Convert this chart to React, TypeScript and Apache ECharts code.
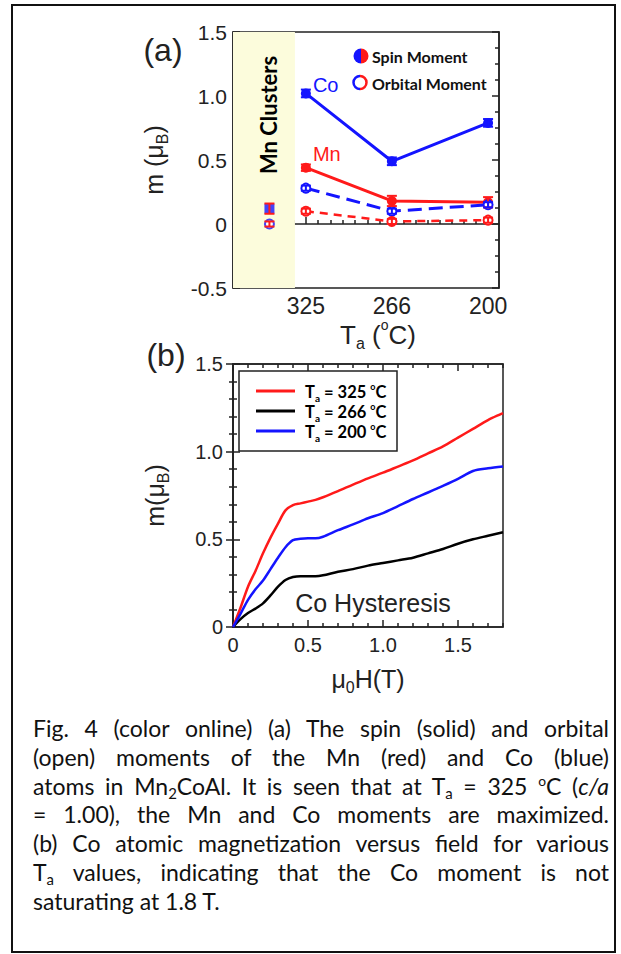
import React, { useEffect, useRef } from "react";
import * as echarts from "echarts";

// ---------------- Panel (a) data ----------------
const annealTemps = [325, 266, 200]; // Ta (°C)
const clusterPos = 350; // "Mn Clusters" sample position on the Ta axis
const clusterBand = [375, 332.5];
const coSpin = [1.02, 0.49, 0.79];
const coSpinErr = [0.03, 0.03, 0.03];
const mnSpin = [0.44, 0.18, 0.17];
const mnSpinErr = [0.025, 0.04, 0.04];
const coOrbital = [0.28, 0.1, 0.15];
const coOrbitalErr = [0.02, 0.02, 0.02];
const mnOrbital = [0.1, 0.02, 0.03];
const mnOrbitalErr = [0.02, 0.02, 0.02];
const clusterSpin = [0.12];
const clusterSpinErr = [0.04];
const clusterOrbital = [0.0];
const clusterOrbitalErr = [0.02];
const yTicksA = [-0.5, 0, 0.5, 1.0, 1.5];

// ---------------- Panel (b) data ----------------
const fieldT = [0, 0.05, 0.1, 0.15, 0.2, 0.25, 0.3, 0.35, 0.4, 0.45, 0.5, 0.55, 0.6, 0.7, 0.8, 0.9, 1.0, 1.1, 1.2, 1.3, 1.4, 1.5, 1.6, 1.7, 1.8];
const m325 = [0, 0.11, 0.23, 0.32, 0.42, 0.51, 0.59, 0.665, 0.695, 0.705, 0.715, 0.725, 0.74, 0.775, 0.812, 0.848, 0.88, 0.915, 0.95, 0.99, 1.03, 1.08, 1.13, 1.18, 1.22];
const m266 = [0, 0.045, 0.08, 0.105, 0.135, 0.18, 0.23, 0.268, 0.285, 0.29, 0.29, 0.29, 0.295, 0.315, 0.33, 0.35, 0.365, 0.38, 0.395, 0.42, 0.445, 0.475, 0.5, 0.52, 0.54];
const m200 = [0, 0.075, 0.155, 0.215, 0.265, 0.33, 0.395, 0.455, 0.495, 0.503, 0.506, 0.506, 0.515, 0.552, 0.585, 0.62, 0.65, 0.69, 0.73, 0.767, 0.805, 0.845, 0.89, 0.905, 0.915];
const fieldTicks = [0, 0.5, 1.0, 1.5];
const legendB = ["325", "266", "200"];

// ---------------- caption ----------------
type Seg = string | { sub?: string; sup?: string; i?: string };
const captionLines: Seg[][] = [
  ["Fig. 4 (color online) (a) The spin (solid) and orbital"],
  ["(open) moments of the Mn (red) and Co (blue)"],
  ["atoms in Mn", { sub: "2" }, "CoAl. It is seen that at T", { sub: "a" }, " = 325 ", { sup: "o" }, "C (", { i: "c/a" }],
  ["= 1.00), the Mn and Co moments are maximized."],
  ["(b) Co atomic magnetization versus field for various"],
  ["T", { sub: "a" }, " values, indicating that the Co moment is not"],
  ["saturating at 1.8 T."],
];

const BLUE = "#1414ff";
const RED = "#ff1a1a";
const INK = "#222";
const SANS = "Liberation Sans";

const mkRich = (F: number, family = SANS, bold = false, color = INK) => ({
  t: { fontSize: F, lineHeight: Math.round(F * 1.3), verticalAlign: "middle", fontFamily: family, fontWeight: bold ? "bold" : "normal", color },
  s: { fontSize: Math.round(F * 0.62), lineHeight: Math.round(F * 0.62), verticalAlign: "bottom", fontFamily: family, fontWeight: bold ? "bold" : "normal", color },
  p: { fontSize: Math.round(F * 0.55), lineHeight: Math.round(F * 0.55), verticalAlign: "top", fontFamily: family, fontWeight: bold ? "bold" : "normal", color },
});

// minor tick positions for the Ta axis (uniform spacing on the page)
const minorTemps: number[] = [];
for (let k = 1; k < 7; k++) minorTemps.push(325 - (k * (325 - 266)) / 7);
for (let k = 1; k < 8; k++) minorTemps.push(266 - (k * (266 - 200)) / 8);
for (let k = 1; k < 6; k++) minorTemps.push(325 + k * 8.4);
const minorField: number[] = [];
for (let k = 1; k <= 18; k++) if (k % 5 !== 0) minorField.push(k / 10);

const lineSt = { color: INK, width: 1.5 };

function errorBars(xs: number[], ys: number[], errs: number[], color: string, xi = 0, yi = 0) {
  return {
    type: "custom",
    xAxisIndex: xi,
    yAxisIndex: yi,
    z: 6,
    silent: true,
    data: xs.map((x, i) => [x, ys[i] - errs[i], ys[i] + errs[i]]),
    encode: { x: 0, y: [1, 2] },
    renderItem: (_p: any, api: any) => {
      const x = api.value(0);
      const lo = api.coord([x, api.value(1)]);
      const hi = api.coord([x, api.value(2)]);
      const w = 5;
      const style = { stroke: color, lineWidth: 2 };
      return {
        type: "group",
        children: [
          { type: "line", shape: { x1: lo[0], y1: lo[1], x2: hi[0], y2: hi[1] }, style },
          { type: "line", shape: { x1: lo[0] - w, y1: lo[1], x2: lo[0] + w, y2: lo[1] }, style },
          { type: "line", shape: { x1: hi[0] - w, y1: hi[1], x2: hi[0] + w, y2: hi[1] }, style },
        ],
      };
    },
  };
}

function pts(xs: number[], ys: number[]) {
  return xs.map((x, i) => [x, ys[i]]);
}

function buildOption(): any {
  const fmtA = (v: number) => (v === 0 ? "0" : v.toFixed(1));
  const legendColors = [RED, "#000", BLUE];
  const legendYs = [391, 411, 431];
  const coData: any[] = pts(annealTemps, coSpin);
  coData[0] = { value: coData[0], label: { show: true, formatter: "Co", position: "right", distance: 2, offset: [0, -8], color: BLUE, fontSize: 20, fontFamily: SANS } };
  const mnData: any[] = pts(annealTemps, mnSpin);
  mnData[0] = { value: mnData[0], label: { show: true, formatter: "Mn", position: "right", distance: 2, offset: [0, -14], color: RED, fontSize: 20, fontFamily: SANS } };

  return {
    animation: false,
    backgroundColor: "transparent",
    grid: [
      { left: 233, top: 32, width: 266, height: 256, show: true, borderColor: INK, borderWidth: 1.5, backgroundColor: "transparent" },
      { left: 233, top: 364, width: 270, height: 263, show: true, borderColor: INK, borderWidth: 1.5, backgroundColor: "transparent" },
    ],
    xAxis: [
      {
        type: "value", gridIndex: 0, inverse: true, min: 192.5, max: 375, position: "bottom",
        axisLine: { show: true, lineStyle: lineSt },
        axisTick: { show: true, inside: true, length: 7, customValues: annealTemps, lineStyle: lineSt },
        axisLabel: { show: true, customValues: annealTemps, fontSize: 23, margin: 6, color: INK, fontFamily: SANS },
        splitLine: { show: false },
        name: "{t|T}{s|a}{t| (}{p|o}{t|C)}",
        nameLocation: "middle", nameGap: 26,
        nameTextStyle: { rich: mkRich(26), padding: [0, 0, 0, 24] },
      },
      {
        type: "value", gridIndex: 0, inverse: true, min: 192.5, max: 375, position: "bottom",
        axisLine: { show: false }, axisLabel: { show: false }, splitLine: { show: false },
        axisTick: { show: true, inside: true, length: 4, customValues: minorTemps, lineStyle: lineSt },
      },
      {
        type: "value", gridIndex: 1, min: 0, max: 1.8, position: "bottom",
        axisLine: { show: true, lineStyle: lineSt },
        axisTick: { show: true, inside: true, length: 7, customValues: fieldTicks, lineStyle: lineSt },
        axisLabel: { show: true, customValues: fieldTicks, fontSize: 20, margin: 8, color: INK, fontFamily: SANS, formatter: fmtA },
        splitLine: { show: false },
        name: "{t|μ}{s|0}{t|H(T)}",
        nameLocation: "middle", nameGap: 35,
        nameTextStyle: { rich: mkRich(25) },
      },
      {
        type: "value", gridIndex: 1, min: 0, max: 1.8, position: "bottom",
        axisLine: { show: false }, axisLabel: { show: false }, splitLine: { show: false },
        axisTick: { show: true, inside: true, length: 4, customValues: minorField, lineStyle: lineSt },
      },
      {
        type: "value", gridIndex: 1, min: 0, max: 1.8, position: "top",
        axisLine: { show: true, lineStyle: lineSt }, axisLabel: { show: false }, splitLine: { show: false },
        axisTick: { show: true, inside: true, length: 7, customValues: fieldTicks, lineStyle: lineSt },
      },
      {
        type: "value", gridIndex: 1, min: 0, max: 1.8, position: "top",
        axisLine: { show: false }, axisLabel: { show: false }, splitLine: { show: false },
        axisTick: { show: true, inside: true, length: 4, customValues: minorField, lineStyle: lineSt },
      },
    ],
    yAxis: [
      {
        type: "value", gridIndex: 0, min: yTicksA[0], max: yTicksA[yTicksA.length - 1], interval: 0.5, position: "left",
        axisLine: { show: true, lineStyle: lineSt },
        axisTick: { show: true, inside: true, length: 7, lineStyle: lineSt },
        minorTick: { show: true, splitNumber: 4, length: 4, lineStyle: lineSt },
        axisLabel: { fontSize: 21, margin: 6, color: INK, fontFamily: SANS, formatter: fmtA },
        splitLine: { show: false },
        name: "{t|m (μ}{s|B}{t|)}",
        nameLocation: "middle", nameGap: 63,
        nameTextStyle: { rich: mkRich(25) },
      },
      {
        type: "value", gridIndex: 0, min: yTicksA[0], max: yTicksA[yTicksA.length - 1], interval: 0.5, position: "right",
        axisLine: { show: true, lineStyle: lineSt },
        axisTick: { show: true, inside: true, length: 7, lineStyle: lineSt },
        minorTick: { show: true, splitNumber: 4, length: 4, lineStyle: lineSt },
        axisLabel: { show: false }, splitLine: { show: false },
      },
      {
        type: "value", gridIndex: 1, min: 0, max: 1.5, interval: 0.5, position: "left",
        axisLine: { show: true, lineStyle: lineSt },
        axisTick: { show: true, inside: true, length: 7, lineStyle: lineSt },
        minorTick: { show: true, splitNumber: 5, length: 4, lineStyle: lineSt },
        axisLabel: { fontSize: 20, margin: 10, color: INK, fontFamily: SANS, formatter: fmtA },
        splitLine: { show: false },
        name: "{t|m(μ}{s|B}{t|)}",
        nameLocation: "middle", nameGap: 62,
        nameTextStyle: { rich: mkRich(25) },
      },
      {
        type: "value", gridIndex: 1, min: 0, max: 1.5, interval: 0.5, position: "right",
        axisLine: { show: true, lineStyle: lineSt },
        axisTick: { show: true, inside: true, length: 7, lineStyle: lineSt },
        minorTick: { show: true, splitNumber: 5, length: 4, lineStyle: lineSt },
        axisLabel: { show: false }, splitLine: { show: false },
      },
    ],
    series: [
      // yellow "Mn Clusters" band
      {
        type: "scatter", xAxisIndex: 0, yAxisIndex: 0, z: 0, symbolSize: 0, silent: true,
        data: [[clusterPos, clusterSpin[0]]],
        markArea: { silent: true, itemStyle: { color: "#fcfcdc" }, data: [[{ xAxis: clusterBand[0] }, { xAxis: clusterBand[1] }]] },
      },
      { type: "line", xAxisIndex: 0, yAxisIndex: 0, z: 3, data: coData, color: BLUE, lineStyle: { width: 3 }, symbol: "circle", symbolSize: 10 },
      { type: "line", xAxisIndex: 0, yAxisIndex: 0, z: 3, data: mnData, color: RED, lineStyle: { width: 3 }, symbol: "circle", symbolSize: 10 },
      { type: "line", xAxisIndex: 0, yAxisIndex: 0, z: 3, data: pts(annealTemps, coOrbital), color: BLUE, lineStyle: { width: 3, type: [14, 7] }, symbol: "emptyCircle", symbolSize: 9, itemStyle: { borderWidth: 2 } },
      { type: "line", xAxisIndex: 0, yAxisIndex: 0, z: 3, data: pts(annealTemps, mnOrbital), color: RED, lineStyle: { width: 2.5, type: [8, 6] }, symbol: "emptyCircle", symbolSize: 9, itemStyle: { borderWidth: 2 } },
      { type: "scatter", xAxisIndex: 0, yAxisIndex: 0, z: 3, data: [[clusterPos, clusterSpin[0]]], color: BLUE, symbol: "rect", symbolSize: 10 },
      { type: "scatter", xAxisIndex: 0, yAxisIndex: 0, z: 3, data: [[clusterPos, clusterOrbital[0]]], color: BLUE, symbol: "emptyCircle", symbolSize: 9, itemStyle: { borderWidth: 2 } },
      errorBars(annealTemps, coSpin, coSpinErr, BLUE),
      errorBars(annealTemps, mnSpin, mnSpinErr, RED),
      errorBars(annealTemps, coOrbital, coOrbitalErr, BLUE),
      errorBars(annealTemps, mnOrbital, mnOrbitalErr, RED),
      errorBars([clusterPos], clusterSpin, clusterSpinErr, RED),
      errorBars([clusterPos], clusterOrbital, clusterOrbitalErr, RED),
      // panel (b)
      { type: "line", xAxisIndex: 2, yAxisIndex: 2, z: 3, data: pts(fieldT, m325), color: RED, showSymbol: false, smooth: 0.3, lineStyle: { width: 2.5 } },
      { type: "line", xAxisIndex: 2, yAxisIndex: 2, z: 3, data: pts(fieldT, m266), color: "#000", showSymbol: false, smooth: 0.3, lineStyle: { width: 2.5 } },
      { type: "line", xAxisIndex: 2, yAxisIndex: 2, z: 3, data: pts(fieldT, m200), color: BLUE, showSymbol: false, smooth: 0.3, lineStyle: { width: 2.5 } },
    ],
    graphic: [
      { type: "text", x: 163, y: 50, style: { text: "(a)", fontSize: 32, fontFamily: SANS, fill: INK, align: "center", verticalAlign: "middle" } },
      { type: "text", x: 166, y: 355, style: { text: "(b)", fontSize: 32, fontFamily: SANS, fill: INK, align: "center", verticalAlign: "middle" } },
      { type: "text", x: 268, y: 115, rotation: Math.PI / 2, z: 10, style: { text: "Mn Clusters", fontSize: 22, fontWeight: "bold", fontFamily: "Lato", fill: "#000", align: "center", verticalAlign: "middle" } },
      // legend (a)
      { type: "sector", z: 10, shape: { cx: 361, cy: 56, r: 7.5, startAngle: Math.PI / 2, endAngle: (3 * Math.PI) / 2 }, style: { fill: BLUE } },
      { type: "sector", z: 10, shape: { cx: 361, cy: 56, r: 7.5, startAngle: -Math.PI / 2, endAngle: Math.PI / 2 }, style: { fill: RED } },
      { type: "arc", z: 10, shape: { cx: 360, cy: 82.5, r: 6.5, startAngle: Math.PI / 2, endAngle: (3 * Math.PI) / 2 }, style: { stroke: BLUE, lineWidth: 2.5, fill: "none" } },
      { type: "arc", z: 10, shape: { cx: 360, cy: 82.5, r: 6.5, startAngle: -Math.PI / 2, endAngle: Math.PI / 2 }, style: { stroke: RED, lineWidth: 2.5, fill: "none" } },
      { type: "text", z: 10, x: 372, y: 56, style: { text: "Spin Moment", fontSize: 16, fontWeight: "bold", fontFamily: "Lato", fill: "#111", align: "left", verticalAlign: "middle" } },
      { type: "text", z: 10, x: 372, y: 83, style: { text: "Orbital Moment", fontSize: 16, fontWeight: "bold", fontFamily: "Lato", fill: "#111", align: "left", verticalAlign: "middle" } },
      // legend (b)
      { type: "rect", z: 10, shape: { x: 239, y: 371, width: 158, height: 80 }, style: { fill: "#fff", stroke: INK, lineWidth: 1.5 } },
      ...legendB.map((t, i) => ({ type: "line", z: 11, shape: { x1: 256, y1: legendYs[i], x2: 295, y2: legendYs[i] }, style: { stroke: legendColors[i], lineWidth: 3 } })),
      ...legendB.map((t, i) => ({
        type: "text", z: 11, x: 305, y: legendYs[i] + 1,
        style: { text: `{t|T}{s|a}{t| = ${t} }{p|o}{t|C}`, rich: mkRich(16.5, "Lato", true, "#111"), align: "left", verticalAlign: "middle" },
      })),
      { type: "text", z: 10, x: 373, y: 603, style: { text: "Co Hysteresis", fontSize: 25, fontFamily: SANS, fill: INK, align: "center", verticalAlign: "middle" } },
    ],
  };
}

function Caption() {
  const subSt: React.CSSProperties = { fontSize: "0.65em", verticalAlign: "baseline", position: "relative", top: "0.28em", lineHeight: 0 };
  const supSt: React.CSSProperties = { fontSize: "0.6em", verticalAlign: "baseline", position: "relative", top: "-0.6em", lineHeight: 0 };
  return (
    <div style={{ position: "absolute", left: 33, top: 714, width: 576, fontFamily: "Lato", fontSize: 23, lineHeight: "28.8px", color: "#111" }}>
      {captionLines.map((line, li) => (
        <div key={li} style={{ textAlign: "justify", textAlignLast: li < captionLines.length - 1 ? "justify" : "left", height: 28.8 }}>
          {line.map((seg, si) =>
            typeof seg === "string" ? (
              <span key={si}>{seg}</span>
            ) : seg.sub ? (
              <span key={si} style={subSt}>{seg.sub}</span>
            ) : seg.sup ? (
              <span key={si} style={supSt}>{seg.sup}</span>
            ) : (
              <i key={si}>{seg.i}</i>
            )
          )}
        </div>
      ))}
    </div>
  );
}

export default function App() {
  const ref = useRef<HTMLDivElement>(null);
  useEffect(() => {
    if (!ref.current) return;
    const chart = echarts.init(ref.current, null, { renderer: "svg" });
    chart.setOption(buildOption());
    return () => chart.dispose();
  }, []);
  return (
    <div style={{ position: "absolute", left: 0, top: 0, width: 621, height: 954, background: "#fff", overflow: "hidden" }}>
      <div style={{ position: "absolute", left: 11, top: 4, width: 605, height: 949, border: "2px solid #111", boxSizing: "border-box" }} />
      <div ref={ref} style={{ position: "absolute", left: 0, top: 0, width: 621, height: 712 }} />
      <Caption />
    </div>
  );
}
